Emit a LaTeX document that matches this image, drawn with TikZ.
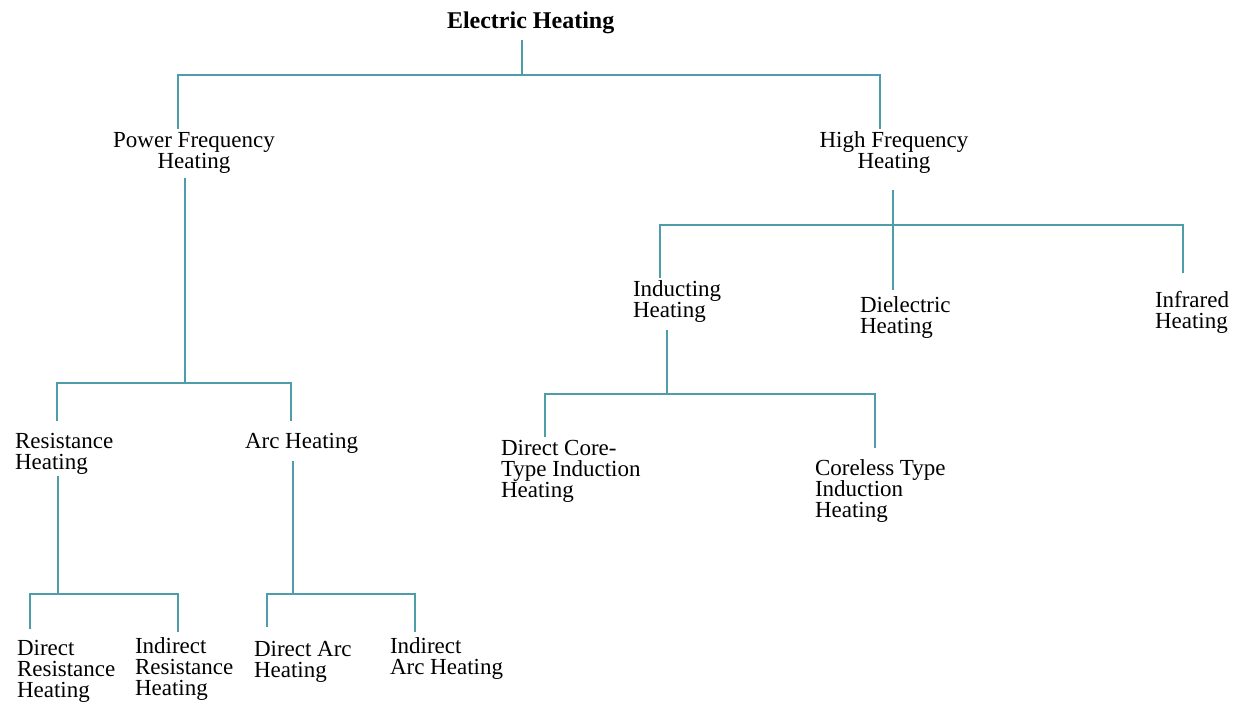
\documentclass[tikz,border=0pt]{standalone}
\usepackage{fontspec}
\setmainfont{Liberation Serif}
\usetikzlibrary{positioning}
\definecolor{treeline}{HTML}{4F9DAB}

\begin{document}
\begin{tikzpicture}[x=1pt, y=-1pt,
  lbl/.style={inner sep=0pt, outer sep=0pt, align=left, anchor=north west, font=\fontsize{23}{21}\selectfont},
  lblc/.style={lbl, align=center, anchor=north},
  link/.style={draw=treeline, line width=1.8pt}]
\useasboundingbox (0,0) rectangle (1249,708);

% labels
\node[lbl, font=\bfseries\fontsize{24}{24}\selectfont] (eh) at (447,12) {Electric Heating};
\node[lblc] (pf) at (194,132) {Power Frequency\\Heating};
\node[lblc] (hf) at (894,132) {High Frequency\\Heating};
\node[lbl] (rh) at (15,433) {Resistance\\Heating};
\node[lbl] (ah) at (245,433) {Arc Heating};
\node[lbl] (drh) at (17,640) {Direct\\Resistance\\Heating};
\node[lbl] (irh) at (135,638) {Indirect\\Resistance\\Heating};
\node[lbl] (dah) at (254,641) {Direct Arc\\Heating};
\node[lbl] (iah) at (390,638) {Indirect\\Arc Heating};
\node[lbl] (ih) at (633,281) {Inducting\\Heating};
\node[lbl] (dh) at (860,297) {Dielectric\\Heating};
\node[lbl] (irf) at (1155,291) {Infrared\\Heating};
\node[lbl] (dct) at (501,440) {Direct Core-\\Type Induction\\Heating};
\node[lbl] (cti) at (815,460) {Coreless Type\\Induction\\Heating};

% bus junctions
\coordinate (b0) at (522,75);  \coordinate (b0l) at (178,75);  \coordinate (b0r) at (880,75);
\coordinate (b1) at (185,383); \coordinate (b1l) at (57,383);  \coordinate (b1r) at (291,383);
\coordinate (b2) at (58,594);  \coordinate (b2l) at (30,594);  \coordinate (b2r) at (178,594);
\coordinate (b3) at (293,594); \coordinate (b3l) at (267,594); \coordinate (b3r) at (415,594);
\coordinate (b4) at (893,225); \coordinate (b4l) at (660,225); \coordinate (b4r) at (1183,225);
\coordinate (b5) at (667,394); \coordinate (b5l) at (545,394); \coordinate (b5r) at (875,394);

% connectors
\draw[link] ([yshift=-6pt]eh.south -| b0) -- (b0);
\draw[link] ([yshift=3pt]pf.north -| b0l) -- (b0l) -- (b0r) -- ([yshift=3pt]hf.north -| b0r);

\draw[link] ([yshift=-5pt]pf.south -| b1) -- (b1);
\draw[link] ([yshift=12pt]rh.north -| b1l) -- (b1l) -- (b1r) -- ([yshift=12pt]ah.north -| b1r);

\draw[link] ([yshift=-2pt]rh.south -| b2) -- (b2);
\draw[link] ([yshift=11pt]drh.north -| b2l) -- (b2l) -- (b2r) -- ([yshift=6pt]irh.north -| b2r);

\draw[link] ([yshift=-8pt]ah.south -| b3) -- (b3);
\draw[link] ([yshift=14pt]dah.north -| b3l) -- (b3l) -- (b3r) -- ([yshift=6pt]iah.north -| b3r);

\draw[link] ([yshift=-16pt]hf.south -| b4) -- (b4);
\draw[link] ([yshift=3pt]ih.north -| b4l) -- (b4l) -- (b4r) -- ([yshift=18pt]irf.north -| b4r);
\draw[link] ([yshift=7pt]dh.north -| b4) -- (b4);

\draw[link] ([yshift=-7pt]ih.south -| b5) -- (b5);
\draw[link] ([yshift=3pt]dct.north -| b5l) -- (b5l) -- (b5r) -- ([yshift=12pt]cti.north -| b5r);
\end{tikzpicture}
\end{document}
